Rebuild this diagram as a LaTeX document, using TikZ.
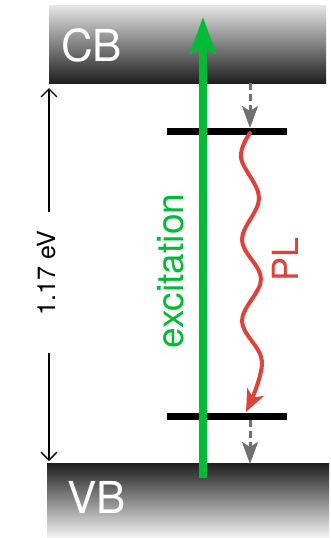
\documentclass[tikz,border=0pt]{standalone}
\usepackage{fontspec}
\setmainfont{TeX Gyre Heros}
\usetikzlibrary{arrows.meta}
\definecolor{exgreen}{RGB}{0,187,51}
\definecolor{plred}{RGB}{222,66,58}
\definecolor{arrgray}{RGB}{112,112,112}
\tikzset{
  bandlabel/.style={text=white, inner sep=0pt, font=\fontsize{44}{44}\selectfont},
  levelbar/.style={line width=7pt, black},
  relax/.style={line width=3pt, arrgray, dash pattern=on 7pt off 4pt, -{Stealth[length=22pt, width=16pt, inset=5pt]}},
  gapline/.style={line width=1.3pt, black, -{Straight Barb[length=8pt, width=16pt]}},
}
\begin{document}
\begin{tikzpicture}[x=1pt,y=-1pt]
\useasboundingbox (0,0) rectangle (331,538);
% bands
\shade[top color=black!10, bottom color=black!88] (49,5) rectangle (326,83);
\shade[top color=black!88, bottom color=black!5] (47,463) rectangle (329,537);
\node[bandlabel, anchor=base west] (cb) at (61,61) {CB};
\node[bandlabel, anchor=base west] (vb) at (67,513) {VB};
% coordinates
\coordinate (cbbot) at (250,83);
\coordinate (lvtop) at (250,128);
\coordinate (lvbot) at (250,420);
\coordinate (vbtop) at (250,464);
\coordinate (gapt1) at (49,212);
\coordinate (gapt2) at (49,88);
\coordinate (gapb1) at (49,353);
\coordinate (gapb2) at (49,461);
\coordinate (exs) at (203,478);
\coordinate (exe) at (203,17);
% level bars
\draw[levelbar] (167,131) -- (287,131);
\draw[levelbar] (167,416) -- (287,416);
% relaxation arrows
\draw[relax] (cbbot) -- (lvtop);
\draw[relax] (lvbot) -- (vbtop);
% PL wave
\draw[plred, line width=4pt, line cap=round, -{Stealth[length=22pt, width=18pt, inset=6pt]}]
  plot[smooth, tension=0.6] coordinates {(250,133) (241,158) (259,198) (242,240) (261,279) (242,321) (262,362) (246,412)};
\node[text=plred, rotate=90, anchor=base, inner sep=0pt, font=\fontsize{36}{36}\selectfont] (pl) at (298,259) {PL};
% excitation
\draw[exgreen, line width=8pt, -{Stealth[length=37pt, width=26pt, inset=7pt]}] (exs) -- (exe);
\node[text=exgreen, rotate=90, anchor=base, inner sep=0pt, font=\fontsize{37}{37}\selectfont] (ex) at (183,271) {excitation};
% gap
\draw[gapline] (gapt1) -- (gapt2);
\draw[gapline] (gapb1) -- (gapb2);
\node[rotate=90, anchor=base, inner sep=0pt, font=\fontsize{25}{25}\selectfont] (gap) at (55,273) {1.17 eV};
\end{tikzpicture}
\end{document}
